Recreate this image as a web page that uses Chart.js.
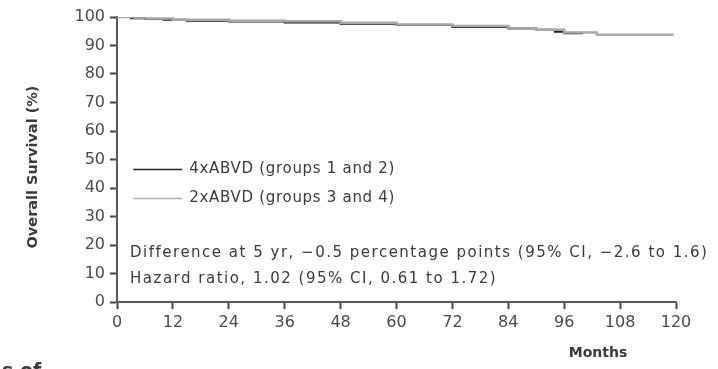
<!DOCTYPE html>
<html>
<head>
<meta charset="utf-8">
<script src="https://cdn.jsdelivr.net/npm/chart.js@4"></script>
<style>
  html, body { margin: 0; padding: 0; background: #fff; }
  #chart { display: block; }
</style>
</head>
<body>
<canvas id="chart" width="718" height="369"></canvas>
<script>
const canvas = document.querySelector('#chart');
const ctx = canvas.getContext('2d');

// months / overall survival (%) for each arm, step curve
const monthsFourABVD = [0, 3, 6, 10, 15, 24, 36, 48, 60, 72, 84, 90, 94, 96, 100];
const survivalFourABVD = [100, 99.6, 99.3, 99.0, 98.7, 98.4, 98.1, 97.6, 97.2, 96.5, 96.0, 95.5, 94.8, 94.3, 94.2];
const monthsTwoABVD = [0, 4, 12, 24, 36, 48, 60, 72, 84, 90, 96, 103, 119.5];
const survivalTwoABVD = [100, 99.5, 99.0, 98.7, 98.5, 98.0, 97.4, 96.8, 96.0, 95.5, 94.6, 93.8, 93.8];

const legendLabels = ['4xABVD (groups 1 and 2)', '2xABVD (groups 3 and 4)'];
const statLines = [
    'Difference at 5 yr, \u22120.5 percentage points (95% CI, \u22122.6 to 1.6)',
    'Hazard ratio, 1.02 (95% CI, 0.61 to 1.72)'
];
const xTitle = 'Months';
const yTitle = 'Overall Survival (%)';

const textColor = '#3a3a3a';
const axisColor = '#5a5a5a';
const fontFamily = '"DejaVu Sans", sans-serif';

function toPoints(xs, ys) {
    return xs.map((x, i) => ({ x: x, y: ys[i] }));
}

// legend, stats text and axis titles drawn on top
const annotations = {
    id: 'annotations',
    afterDraw(chart) {
        const c = chart.ctx;
        const xs = chart.scales.x;
        const ys = chart.scales.y;
        c.save();
        c.fillStyle = textColor;
        c.textBaseline = 'middle';
        c.font = '15px ' + fontFamily;
        c.letterSpacing = '0.7px';

        const lineStyles = [
            { color: '#222', width: 1.5 },
            { color: '#b0b0b0', width: 1.5 }
        ];
        const legendY = [ys.getPixelForValue(46.5), ys.getPixelForValue(36.3)];
        legendLabels.forEach((label, i) => {
            c.strokeStyle = lineStyles[i].color;
            c.lineWidth = lineStyles[i].width;
            c.beginPath();
            c.moveTo(xs.getPixelForValue(3.5), legendY[i]);
            c.lineTo(xs.getPixelForValue(14), legendY[i]);
            c.stroke();
            c.fillText(label, xs.getPixelForValue(15.5), legendY[i]);
        });

        c.letterSpacing = '1.5px';
        const statY = [ys.getPixelForValue(17.3), ys.getPixelForValue(7.9)];
        statLines.forEach((line, i) => {
            c.fillText(line, xs.getPixelForValue(2.8), statY[i]);
        });

        c.letterSpacing = '0px';
        c.font = 'bold 14px ' + fontFamily;
        c.textAlign = 'center';
        c.fillText(xTitle, 598, 353);

        c.font = 'bold 14.5px ' + fontFamily;
        c.translate(33, 167);
        c.rotate(-Math.PI / 2);
        c.fillText(yTitle, 0, 0);
        c.restore();

        // caption fragment at the bottom edge
        c.save();
        c.fillStyle = textColor;
        c.font = 'bold 19px ' + fontFamily;
        c.textBaseline = 'alphabetic';
        c.fillText('s of', 2, 377);
        c.restore();
    }
};

const whiteBackground = {
    id: 'whiteBackground',
    beforeDraw(chart) {
        const c = chart.ctx;
        c.save();
        c.fillStyle = '#fff';
        c.fillRect(0, 0, chart.width, chart.height);
        c.restore();
    }
};

const chart = new Chart(ctx, {
    type: 'line',
    data: {
        datasets: [
            {
                label: legendLabels[1],
                data: toPoints(monthsTwoABVD, survivalTwoABVD),
                borderColor: '#a8a8a8',
                borderWidth: 2.5,
                stepped: true,
                pointRadius: 0,
                fill: false
            },
            {
                label: legendLabels[0],
                data: toPoints(monthsFourABVD, survivalFourABVD),
                borderColor: '#1e1e1e',
                borderWidth: 2,
                stepped: true,
                pointRadius: 0,
                fill: false
            }
        ]
    },
    options: {
        responsive: false,
        animation: false,
        layout: { padding: { left: 0, right: 42, top: 17, bottom: 0 } },
        plugins: {
            legend: { display: false },
            tooltip: { enabled: false }
        },
        scales: {
            x: {
                type: 'linear',
                min: 0,
                max: 120,
                afterFit(scale) { scale.height = 67; },
                border: { display: true, color: axisColor, width: 2 },
                grid: { display: true, drawOnChartArea: false, drawTicks: true, tickLength: 7, color: axisColor, tickColor: '#444', tickWidth: 2 },
                ticks: { stepSize: 12, color: '#4a4a4a', padding: 4, font: { family: fontFamily, size: 16 } }
            },
            y: {
                min: 0,
                max: 100,
                afterFit(scale) { scale.width = 117; },
                border: { display: true, color: axisColor, width: 2 },
                grid: { display: true, drawOnChartArea: false, drawTicks: true, tickLength: 7, color: axisColor, tickColor: '#444', tickWidth: 2 },
                ticks: { stepSize: 10, color: '#4a4a4a', padding: 5, font: { family: fontFamily, size: 16 } }
            }
        }
    },
    plugins: [whiteBackground, annotations]
});
</script>
</body>
</html>
